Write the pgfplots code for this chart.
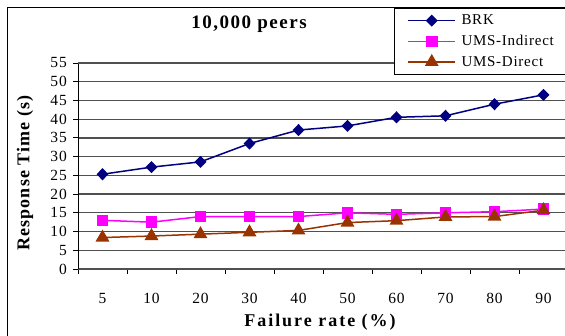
\documentclass[border=0pt]{standalone}
\usepackage{fontspec}
\setmainfont{Liberation Serif}
\newfontfamily\titlefont[LetterSpace=8]{Liberation Serif}
\newfontfamily\xlabfont[LetterSpace=11]{Liberation Serif}
\newfontfamily\ylabfont[LetterSpace=6]{Liberation Serif}
\newfontfamily\legfont[LetterSpace=5]{Liberation Serif}
\newfontfamily\tickfont[LetterSpace=6]{Liberation Serif}
\usepackage{pgfplots}
\pgfplotsset{compat=1.18}
\definecolor{brk}{RGB}{0,0,128}
\definecolor{umsi}{RGB}{255,0,255}
\definecolor{umsd}{RGB}{153,51,0}
\definecolor{gridc}{RGB}{80,80,80}
\begin{document}
\begin{tikzpicture}
\useasboundingbox (0pt,0pt) rectangle (565pt,335pt);
\clip (0pt,0pt) rectangle (565pt,335pt);
\fill[white] (0pt,0pt) rectangle (565pt,335pt);
\draw[black, line width=1pt] (7.5pt,-20pt) rectangle (620pt,327pt);
\begin{axis}[
  at={(78pt,66pt)}, anchor=south west,
  scale only axis, width=490pt, height=206pt,
  xmin=-0.5, xmax=9.5, ymin=0, ymax=55,
  axis x line*=bottom, axis y line*=left,
  x axis line style={gridc, line width=1.3pt, -},
  y axis line style={black, line width=1pt, -},
  xtick={0,...,9},
  xticklabels={5,10,20,30,40,50,60,70,80,90},
  major x tick style={draw=none},
  minor xtick={-0.5,0.5,...,9.5},
  minor x tick style={black, line width=1pt},
  minor tick length=5pt,
  tick align=outside,
  ytick={0,5,...,50},
  extra y ticks={55},
  extra y tick style={grid style={gray!55, line width=1pt}},
  y tick style={black, line width=1pt},
  major tick length=5pt,
  ymajorgrids,
  major grid style={gridc, line width=1.3pt},
  tick label style={font=\tickfont\fontsize{15.5}{18}\selectfont, text=black},
  xticklabel style={anchor=north, inner sep=0pt, yshift=-19pt},
  yticklabel style={anchor=east, inner sep=0pt, xshift=-6pt},
  /pgf/number format/assume math mode=true,
  legend style={at={(0.6449,1.267)}, anchor=north west,
    draw=black, line width=1pt, fill=white,
    font=\legfont\fontsize{15}{18}\selectfont,
    inner xsep=13pt, inner ysep=2pt,
    nodes={inner sep=4.5pt}, column sep=1pt},
  legend cell align=left,
  legend image code/.code={\draw[mark repeat=2,mark phase=2] plot coordinates {(0pt,0pt) (23.5pt,0pt) (47pt,0pt)};},
]
\addplot[brk, line width=1.5pt, mark=diamond*, mark size=5pt, mark options={xscale=1.3, solid}]
  coordinates {(0,25.3) (1,27.2) (2,28.6) (3,33.5) (4,37.1) (5,38.2) (6,40.5) (7,40.9) (8,44.0) (9,46.5)};
\addlegendentry{BRK}
\addplot[umsi, line width=1.5pt, mark=square*, mark size=5pt, mark options={solid}]
  coordinates {(0,13.0) (1,12.5) (2,14.0) (3,14.0) (4,14.0) (5,15.0) (6,14.6) (7,15.0) (8,15.3) (9,16.0)};
\addlegendentry{UMS-Indirect}
\addplot[umsd, line width=1.5pt, mark=triangle*, mark size=6.5pt, mark options={solid}]
  coordinates {(0,8.4) (1,8.8) (2,9.3) (3,9.8) (4,10.3) (5,12.4) (6,12.9) (7,13.9) (8,14.0) (9,15.7)};
\addlegendentry{UMS-Direct\hspace*{40pt}}
\end{axis}
\node[font=\titlefont\bfseries\fontsize{19}{22}\selectfont] at (249pt,311pt) {10,000 peers};
\node[font=\xlabfont\bfseries\fontsize{18}{21}\selectfont] at (320pt,13pt) {Failure rate (\%)};
\node[font=\ylabfont\bfseries\fontsize{18}{21}\selectfont, rotate=90] at (25pt,162pt) {Response Time (s)};
\end{tikzpicture}
\end{document}
